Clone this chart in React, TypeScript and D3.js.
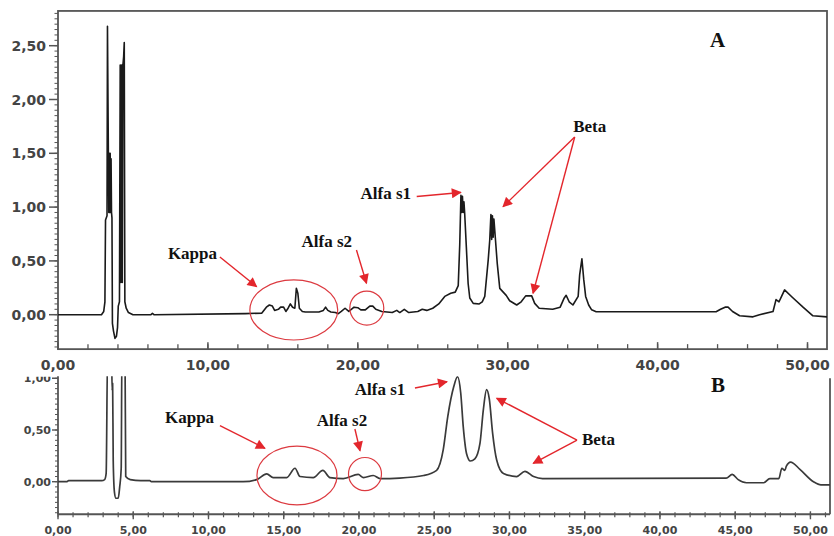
import React from "react";
import * as d3 from "d3";

// ---- Panel A chromatogram (time in min, absorbance) ----
const timeA = [
  0, 1.5, 2.9, 3.05, 3.13, 3.17, 3.27, 3.3, 3.36, 3.39, 3.42, 3.45, 3.48, 3.51, 3.54, 3.57, 3.6, 3.63, 3.7, 3.8,
  3.9, 3.97, 4.02, 4.1, 4.15, 4.2, 4.24, 4.29, 4.33, 4.38, 4.42, 4.46, 4.55, 4.7, 5.0, 6.2, 6.3, 6.4, 12.5, 13.6,
  13.9, 14.1, 14.3, 14.45, 14.7, 14.85, 15.05, 15.2, 15.35, 15.5, 15.65, 15.8, 15.9, 16.0, 16.1, 16.3, 16.5, 17.4, 17.7, 17.85,
  18.0, 18.2, 18.5, 18.7, 18.9, 19.15, 19.4, 19.75, 20.0, 20.2, 20.5, 20.8, 21.0, 21.2, 21.6, 22.3, 22.6, 22.8, 23.1, 23.4,
  24.0, 24.3, 24.6, 25.0, 25.4, 25.8, 26.2, 26.5, 26.7, 26.8, 26.88, 26.93, 26.98, 27.03, 27.08, 27.13, 27.24, 27.36, 27.47, 27.7,
  28.1, 28.3, 28.47, 28.7, 28.8, 28.88, 28.93, 28.98, 29.03, 29.08, 29.3, 29.47, 29.7, 29.9, 30.13, 30.6, 30.9, 31.2, 31.6, 31.8,
  32.1, 33.0, 33.5, 33.75, 33.9, 34.1, 34.35, 34.7, 34.8, 34.95, 35.07, 35.2, 35.4, 35.6, 35.9, 43.9, 44.2, 44.5, 44.7, 45.0,
  45.47, 46.36, 46.8, 47.7, 47.9, 48.1, 48.3, 48.47, 49.0, 49.7, 50.36, 51.3,
];
const signalA = [
  0, 0, 0, 0.03, 0.12, 0.88, 0.92, 2.68, 1.5, 0.95, 1.5, 0.95, 1.5, 0.95, 1.45, 0.95, 0.9, -0.08, -0.15, -0.22,
  -0.2, -0.12, 0.08, 0.12, 2.32, 0.3, 2.32, 0.3, 2.32, 2.4, 2.53, 0.12, 0.06, 0.02, 0, 0, 0.012, 0, 0.01, 0.015,
  0.07, 0.09, 0.08, 0.04, 0.05, 0.07, 0.07, 0.03, 0.06, 0.1, 0.07, 0.06, 0.245, 0.2, 0.06, 0.03, 0.025, 0.025, 0.04, 0.07,
  0.04, 0.025, 0.02, 0.01, 0.03, 0.06, 0.03, 0.07, 0.065, 0.045, 0.045, 0.08, 0.08, 0.05, 0.03, 0.02, 0.04, 0.02, 0.05, 0.02,
  0.03, 0.05, 0.04, 0.06, 0.1, 0.17, 0.2, 0.21, 0.27, 0.65, 1.11, 0.95, 1.1, 0.95, 1.05, 0.94, 0.63, 0.29, 0.155, 0.105,
  0.1, 0.12, 0.17, 0.51, 0.69, 0.93, 0.7, 0.92, 0.72, 0.89, 0.48, 0.245, 0.21, 0.18, 0.13, 0.09, 0.12, 0.175, 0.175, 0.105,
  0.06, 0.05, 0.07, 0.15, 0.18, 0.12, 0.09, 0.17, 0.37, 0.52, 0.33, 0.17, 0.09, 0.045, 0.028, 0.028, 0.05, 0.07, 0.07, 0.03,
  -0.01, -0.02, 0, 0.03, 0.14, 0.12, 0.18, 0.23, 0.16, 0.07, -0.01, -0.02,
];

// ---- Panel B chromatogram ----
const timeB = [
  0, 0.6, 0.7, 2.9, 3.1, 3.2, 3.3, 3.5, 3.55, 3.6, 3.63, 3.67, 3.75, 3.85, 4.0, 4.1, 4.2, 4.25, 4.45, 4.5,
  4.8, 5.5, 6.1, 6.2, 12.3, 13.2, 13.87, 14.3, 15.2, 15.75, 16.08, 16.96, 17.6, 18.07, 18.96, 19.95, 20.3, 20.95, 21.4, 22.7,
  24.3, 25.16, 25.6, 25.9, 26.3, 26.55, 26.76, 26.93, 27.15, 27.4, 27.7, 28.04, 28.26, 28.48, 28.66, 28.88, 29.15, 29.6, 30.48, 31.03,
  31.6, 32.2, 44.4, 44.8, 45.2, 45.75, 46.9, 47.3, 47.9, 48.1, 48.3, 48.4, 48.68, 49.3, 50.2, 50.7, 51.3,
];
const signalB = [
  0, 0, 0.01, 0.01, 0.02, 0.08, 1.3, 1.3, 1.3, 0.88, 0.95, 0.2, -0.1, -0.16, -0.16, -0.05, 0.13, 1.3, 1.3, 0.05,
  0.02, 0.01, 0.01, 0, 0, 0.02, 0.075, 0.04, 0.04, 0.13, 0.05, 0.04, 0.11, 0.04, 0.03, 0.07, 0.04, 0.06, 0.03, 0.035,
  0.06, 0.11, 0.31, 0.63, 0.92, 1.015, 0.86, 0.53, 0.27, 0.2, 0.22, 0.37, 0.69, 0.89, 0.8, 0.47, 0.21, 0.08, 0.05, 0.1,
  0.05, 0.03, 0.035, 0.07, 0.02, -0.01, -0.01, 0.03, 0.03, 0.13, 0.11, 0.15, 0.19, 0.12, 0, -0.03, -0.03,
];

// ---- Axis ticks ----
const yTicksA = [0, 0.5, 1, 1.5, 2, 2.5];
const xTicksA = [0, 10, 20, 30, 40, 50];
const yTicksB = [0, 0.5, 1];
const xTicksB = [0, 5, 10, 15, 20, 25, 30, 35, 40, 45, 50];

const fmt = (v: number) => v.toFixed(2).replace(".", ",");

const RED = "#e3262c";
const CIRC = "#dc3a40";
const AX = "#555";

export default function App() {
  const xA = d3.scaleLinear().domain([0, 51.3]).range([58, 827]);
  const yA = d3.scaleLinear().domain([0, 2.5]).range([314.7, 45.7]);
  const xB = d3.scaleLinear().domain([0, 51.3]).range([58, 830]);
  const yB = d3.scaleLinear().domain([0, 1]).range([481.7, 378.3]);

  const yMinA = -0.32, yMaxA = 2.823;
  const yMinB = -0.315, yMaxB = 1.02;

  const ptsA: [number, number][] = timeA.map((t, i) => [t, signalA[i]]);
  const ptsB: [number, number][] = timeB.map((t, i) => [t, signalB[i]]);

  const lineA = d3.line<[number, number]>().x((d) => xA(d[0])).y((d) => yA(d[1]));
  const lineB = d3
    .line<[number, number]>()
    .x((d) => xB(d[0]))
    .y((d) => yB(d[1]))
    .curve(d3.curveMonotoneX);

  const minorYA = d3.range(-0.3, 2.81, 0.05);
  const minorXA = d3.range(0, 51.3, 2);
  const minorYB = d3.range(-0.3, 1.01, 0.05);
  const minorXB = d3.range(0, 51.3, 1);

  const tickFont = { fontFamily: "'DejaVu Sans', sans-serif", fontWeight: 700, fill: "#444" } as const;
  const annFont = { fontFamily: "'Liberation Serif', 'Times New Roman', serif", fontWeight: 700, fill: "#111" } as const;

  const arrow = (
    sx: (v: number) => number,
    sy: (v: number) => number,
    t0: number,
    v0: number,
    t1: number,
    v1: number,
    key: string
  ) => (
    <line
      key={key}
      x1={sx(t0)}
      y1={sy(v0)}
      x2={sx(t1)}
      y2={sy(v1)}
      stroke={RED}
      strokeWidth={1.4}
      markerEnd="url(#ah)"
    />
  );

  const ell = (
    sx: (v: number) => number,
    sy: (v: number) => number,
    t: number,
    v: number,
    rt: number,
    rv: number,
    key: string
  ) => (
    <ellipse
      key={key}
      cx={sx(t)}
      cy={sy(v)}
      rx={Math.abs(sx(t + rt) - sx(t))}
      ry={Math.abs(sy(v + rv) - sy(v))}
      fill="none"
      stroke={CIRC}
      strokeWidth={1.2}
    />
  );

  return (
    <svg
      width={834}
      height={536}
      viewBox="0 0 834 536"
      style={{ position: "absolute", left: 0, top: 0, background: "#fff" }}
    >
      <defs>
        <marker
          id="ah"
          viewBox="0 0 10 10"
          refX="9"
          refY="5"
          markerWidth="11"
          markerHeight="10"
          markerUnits="userSpaceOnUse"
          orient="auto"
        >
          <path d="M0,0 L10,5 L0,10 z" fill={RED} />
        </marker>
        <clipPath id="clipB">
          <rect x={xB(0)} y={yB(yMaxB)} width={xB(51.3) - xB(0)} height={yB(yMinB) - yB(yMaxB)} />
        </clipPath>
        <clipPath id="clipLbl">
          <rect x={0} y={yB(yMaxB) + 0.5} width={60} height={100} />
        </clipPath>
      </defs>
      <rect x={0} y={0} width={834} height={536} fill="#fff" />

      {/* ===== Panel A ===== */}
      <rect
        x={xA(0)}
        y={yA(yMaxA)}
        width={xA(51.3) - xA(0)}
        height={yA(yMinA) - yA(yMaxA)}
        fill="none"
        stroke={AX}
        strokeWidth={1.8}
      />
      {minorYA.map((v, i) => (
        <line key={"mya" + i} x1={xA(0) - 3.5} x2={xA(0)} y1={yA(v)} y2={yA(v)} stroke={AX} strokeWidth={1} />
      ))}
      {yTicksA.map((v) => (
        <g key={"ya" + v}>
          <line x1={xA(0) - 9} x2={xA(0)} y1={yA(v)} y2={yA(v)} stroke={AX} strokeWidth={1.5} />
          <text x={xA(0) - 12} y={yA(v)} dy="0.36em" textAnchor="end" fontSize={14} {...tickFont}>
            {fmt(v)}
          </text>
        </g>
      ))}
      {minorXA.map((t, i) => (
        <line
          key={"mxa" + i}
          x1={xA(t)}
          x2={xA(t)}
          y1={yA(yMinA)}
          y2={yA(yMinA) - 5}
          stroke={AX}
          strokeWidth={1.3}
        />
      ))}
      {xTicksA.map((t) => (
        <g key={"xa" + t}>
          <line x1={xA(t)} x2={xA(t)} y1={yA(yMinA)} y2={yA(yMinA) - 7} stroke={AX} strokeWidth={1.5} />
          <text x={xA(t)} y={yA(yMinA) + 21} textAnchor="middle" fontSize={14} {...tickFont}>
            {fmt(t)}
          </text>
        </g>
      ))}
      <path d={lineA(ptsA) || ""} fill="none" stroke="#1a1a1a" strokeWidth={1.6} strokeLinejoin="round" />

      {/* Panel A annotations */}
      {ell(xA, yA, 15.73, 0.044, 2.93, 0.279, "ek")}
      {ell(xA, yA, 20.6, 0.062, 1.133, 0.158, "es2")}
      {arrow(xA, yA, 10.8, 0.536, 13.25, 0.26, "ak")}
      {arrow(xA, yA, 19.91, 0.601, 20.58, 0.292, "as2")}
      {arrow(xA, yA, 23.93, 1.098, 26.87, 1.136, "as1")}
      {arrow(xA, yA, 34.47, 1.651, 29.69, 1.004, "ab1")}
      {arrow(xA, yA, 34.47, 1.651, 31.69, 0.199, "ab2")}
      <text x={xA(7.33)} y={yA(0.518)} fontSize={17} {...annFont}>
        Kappa
      </text>
      <text x={xA(17.93)} y={yA(0.629)} textAnchor="middle" fontSize={17} {...annFont}>
        Alfa s2
      </text>
      <text x={xA(21.87)} y={yA(1.075)} textAnchor="middle" fontSize={17} {...annFont}>
        Alfa s1
      </text>
      <text x={xA(35.47)} y={yA(1.697)} textAnchor="middle" fontSize={17} {...annFont}>
        Beta
      </text>
      <text x={xA(44.0)} y={yA(2.488)} textAnchor="middle" fontSize={21} {...annFont}>
        A
      </text>

      {/* ===== Panel B ===== */}
      <line x1={xB(0)} x2={xB(0)} y1={yB(yMaxB)} y2={yB(yMinB)} stroke={AX} strokeWidth={1.8} />
      <line x1={xB(0)} x2={xB(51.3)} y1={yB(yMinB)} y2={yB(yMinB)} stroke={AX} strokeWidth={1.8} />
      <line x1={xB(51.3)} x2={xB(51.3)} y1={yB(yMaxB) + 2} y2={yB(yMinB)} stroke={AX} strokeWidth={1.8} />
      {minorYB.map((v, i) => (
        <line key={"myb" + i} x1={xB(0) - 3} x2={xB(0)} y1={yB(v)} y2={yB(v)} stroke={AX} strokeWidth={1} />
      ))}
      {yTicksB.map((v) => (
        <g key={"yb" + v} clipPath={v === 1 ? "url(#clipLbl)" : undefined}>
          <line x1={xB(0) - 6} x2={xB(0)} y1={yB(v)} y2={yB(v)} stroke={AX} strokeWidth={1.4} />
          <text x={xB(0) - 7} y={yB(v)} dy="0.36em" textAnchor="end" fontSize={11} {...tickFont}>
            {fmt(v)}
          </text>
        </g>
      ))}
      {minorXB.map((t, i) => (
        <line
          key={"mxb" + i}
          x1={xB(t)}
          x2={xB(t)}
          y1={yB(yMinB) - 2}
          y2={yB(yMinB) + 3}
          stroke={AX}
          strokeWidth={1.2}
        />
      ))}
      {xTicksB.map((t) => (
        <g key={"xb" + t}>
          <line x1={xB(t)} x2={xB(t)} y1={yB(yMinB) - 3} y2={yB(yMinB) + 5} stroke={AX} strokeWidth={1.4} />
          <text x={xB(t)} y={yB(yMinB) + 20} textAnchor="middle" fontSize={11} {...tickFont}>
            {fmt(t)}
          </text>
        </g>
      ))}
      <g clipPath="url(#clipB)">
        <path d={lineB(ptsB) || ""} fill="none" stroke="#3a3a3a" strokeWidth={1.7} strokeLinejoin="round" />
      </g>

      {/* Panel B annotations */}
      {ell(xB, yB, 15.88, 0.06, 2.66, 0.285, "bek")}
      {ell(xB, yB, 20.4, 0.074, 1.096, 0.16, "bes2")}
      {arrow(xB, yB, 10.76, 0.542, 13.75, 0.323, "bak")}
      {arrow(xB, yB, 19.73, 0.51, 20.07, 0.3, "bas2")}
      {arrow(xB, yB, 23.72, 0.906, 25.85, 0.967, "bas1")}
      {arrow(xB, yB, 34.49, 0.402, 29.15, 0.807, "bab1")}
      {arrow(xB, yB, 34.49, 0.402, 31.58, 0.178, "bab2")}
      <text x={xB(7.11)} y={yB(0.568)} fontSize={17} {...annFont}>
        Kappa
      </text>
      <text x={xB(18.87)} y={yB(0.539)} textAnchor="middle" fontSize={17} {...annFont}>
        Alfa s2
      </text>
      <text x={xB(21.4)} y={yB(0.839)} textAnchor="middle" fontSize={17} {...annFont}>
        Alfa s1
      </text>
      <text x={xB(34.82)} y={yB(0.355)} fontSize={17} {...annFont}>
        Beta
      </text>
      <text x={xB(43.85)} y={yB(0.868)} textAnchor="middle" fontSize={21} {...annFont}>
        B
      </text>
    </svg>
  );
}
